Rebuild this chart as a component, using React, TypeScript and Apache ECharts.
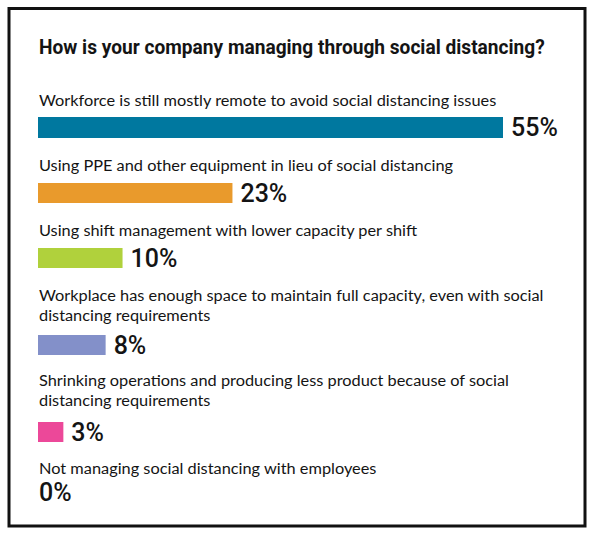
import React, { useEffect, useRef } from "react";
import * as echarts from "echarts";

const TITLE = "How is your company managing through social distancing?";
const categories = [
  "Workforce is still mostly remote to avoid social distancing issues",
  "Using PPE and other equipment in lieu of social distancing",
  "Using shift management with lower capacity per shift",
  "Workplace has enough space to maintain full capacity, even with social\ndistancing requirements",
  "Shrinking operations and producing less product because of social\ndistancing requirements",
  "Not managing social distancing with employees",
];
const values = [55, 23, 10, 8, 3, 0];
const colors = ["#00789f", "#e99a2c", "#b0d13c", "#8390c9", "#ec4899", "#888888"];

// layout (positions / sizes)
const BAR_LEFT = 38;
const AXIS_WIDTH = 465;
const AXIS_MAX = 55;
const barTops = [117, 183, 248, 335, 422, 482];
const barHeights = [21, 20, 20, 20, 20, 20];
const labelCenters = [100.5, 165.3, 230.5, 305.2, 390.5, 468.5];
const TITLE_TARGET_WIDTH = 506;
const LABEL_TARGET_WIDTH = 458; // width of first category line in reference

const LABEL_FONT = "Lato, 'Open Sans', sans-serif";
const VALUE_FONT = "Roboto, 'Liberation Sans', sans-serif";
const TITLE_FONT = "Roboto, 'Liberation Sans', sans-serif";
const INK = "#141414";

function measure(text: string, font: string): number {
  const c = document.createElement("canvas");
  const ctx = c.getContext("2d");
  if (!ctx) return 0;
  ctx.font = font;
  return ctx.measureText(text).width;
}

export default function App() {
  const ref = useRef<HTMLDivElement>(null);
  useEffect(() => {
    if (!ref.current) return;
    const chart = echarts.init(ref.current, undefined, { renderer: "svg" });

    const titleW = measure(TITLE, `bold 21px ${TITLE_FONT}`);
    const titleScale = titleW > 0 ? TITLE_TARGET_WIDTH / titleW : 1;
    const labelW = measure(categories[0], `15px ${LABEL_FONT}`);
    const labelScale = labelW > 0 ? LABEL_TARGET_WIDTH / labelW : 1;

    const grids = values.map((_, i) => ({
      left: BAR_LEFT,
      width: AXIS_WIDTH,
      top: barTops[i],
      height: barHeights[i],
      containLabel: false,
    }));
    const xAxes = values.map((_, i) => ({
      type: "value",
      gridIndex: i,
      min: 0,
      max: AXIS_MAX,
      show: false,
    }));
    const yAxes = values.map((_, i) => ({
      type: "category",
      gridIndex: i,
      data: [categories[i]],
      show: false,
    }));
    const series = values.map((v, i) => ({
      type: "bar",
      xAxisIndex: i,
      yAxisIndex: i,
      barWidth: "100%",
      data: [{ value: v, itemStyle: { color: colors[i] } }],
      label: {
        show: true,
        position: "right",
        distance: v === 0 ? 1 : 8,
        formatter: "{c}%",
        color: INK,
        fontFamily: VALUE_FONT,
        fontSize: 25,
        fontWeight: 500,
      },
    }));
    const graphics: any[] = [
      {
        type: "rect",
        shape: { x: 9, y: 8.5, width: 576, height: 517.5 },
        style: { fill: "none", stroke: "#111", lineWidth: 3 },
      },
      {
        type: "text",
        x: 39,
        y: 46.7,
        scaleX: titleScale,
        style: {
          text: TITLE,
          fill: INK,
          fontFamily: TITLE_FONT,
          fontWeight: "bold",
          fontSize: 21,
          verticalAlign: "middle",
          align: "left",
        },
      },
      ...categories.map((c, i) => ({
        type: "text",
        x: 39,
        y: labelCenters[i],
        scaleX: labelScale,
        style: {
          text: c,
          fill: INK,
          fontFamily: LABEL_FONT,
          fontSize: 15,
          lineHeight: 20,
          verticalAlign: "middle",
          align: "left",
        },
      })),
    ];
    chart.setOption({
      animation: false,
      backgroundColor: "#ffffff",
      grid: grids,
      xAxis: xAxes,
      yAxis: yAxes,
      series,
      graphic: graphics,
    });
    return () => chart.dispose();
  }, []);
  return (
    <div
      ref={ref}
      style={{ position: "absolute", left: 0, top: 0, width: 600, height: 542 }}
    />
  );
}
